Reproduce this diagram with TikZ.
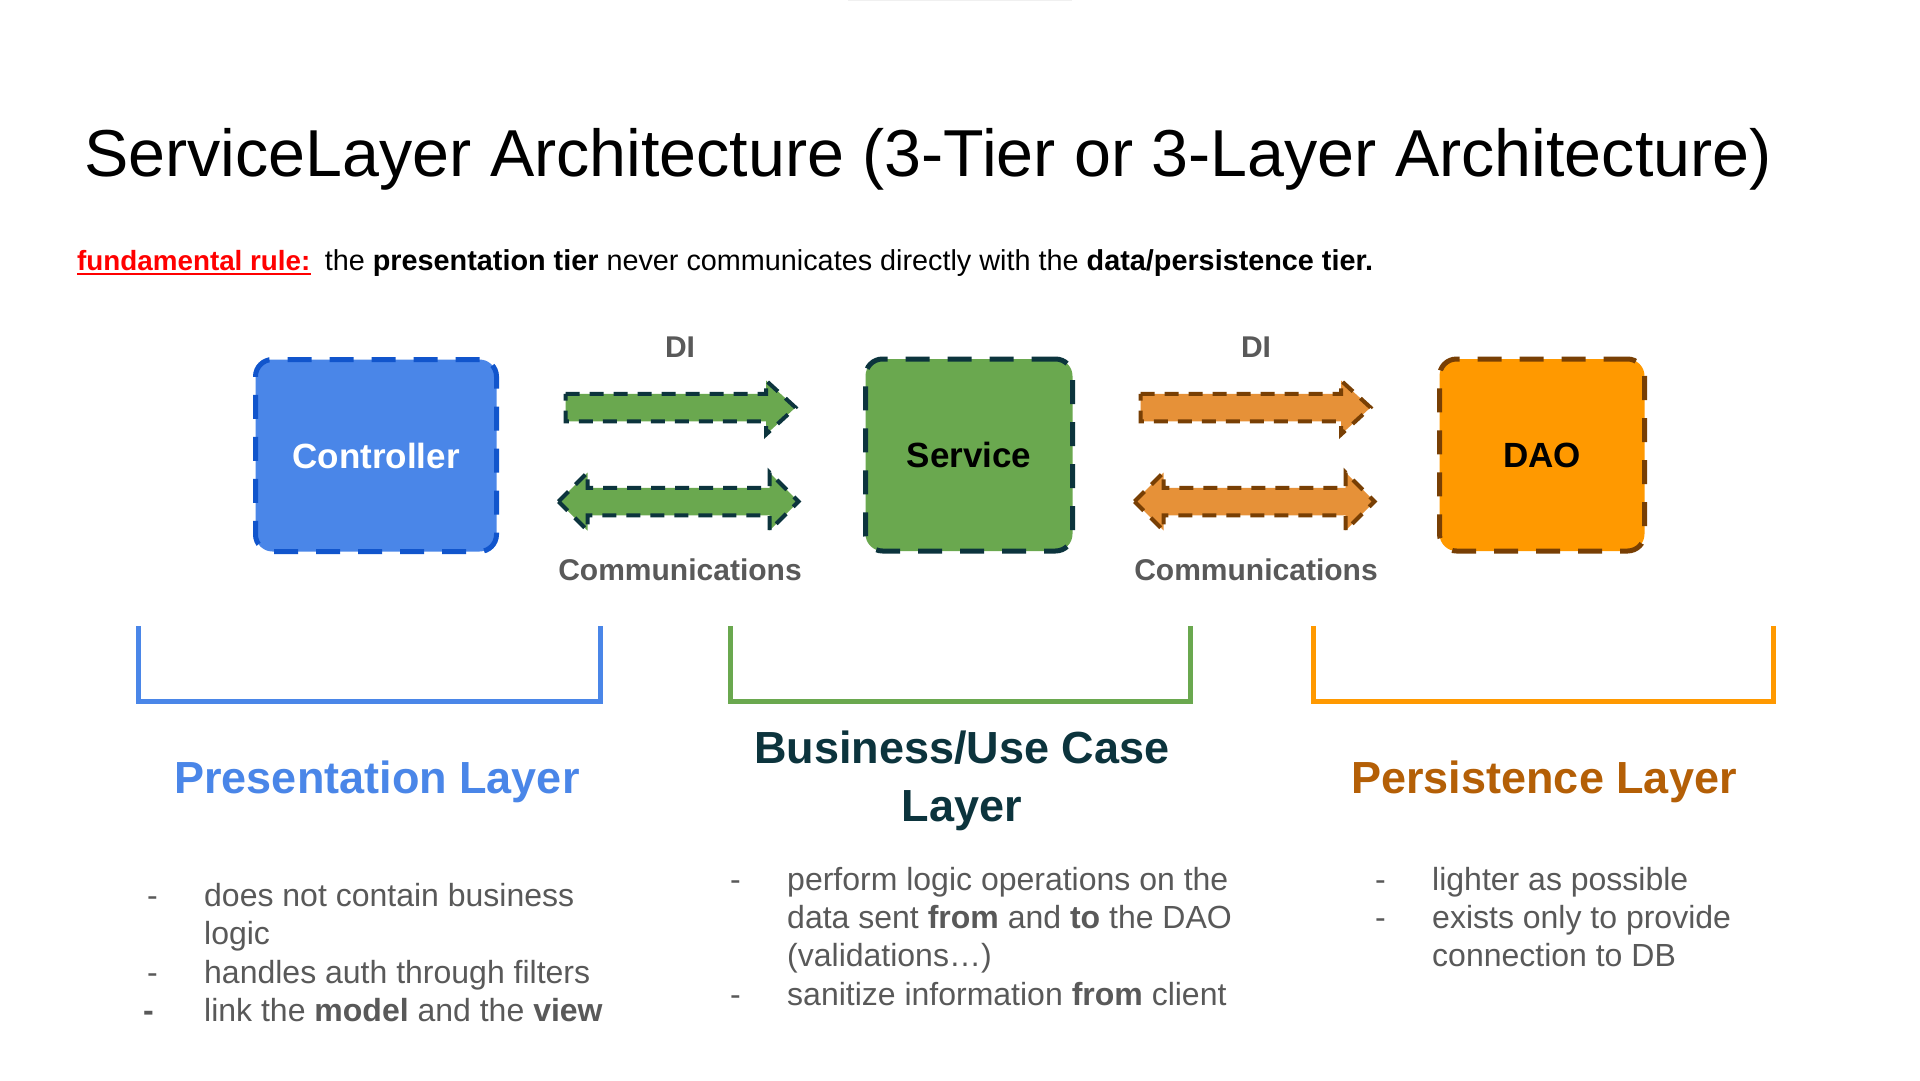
\documentclass[tikz,border=0pt]{standalone}
\usepackage{fontspec}
\setmainfont{Liberation Sans}
\usetikzlibrary{calc}
\definecolor{cblue}{HTML}{4A86E8}
\definecolor{cblueb}{HTML}{1155CC}
\definecolor{cgreen}{HTML}{6AA84F}
\definecolor{cdark}{HTML}{0C343D}
\definecolor{corange}{HTML}{FF9900}
\definecolor{carrow}{HTML}{E69138}
\definecolor{cbrown}{HTML}{783F04}
\definecolor{cpers}{HTML}{B45F06}
\definecolor{cgray}{HTML}{595959}
\begin{document}
\begin{tikzpicture}[x=1pt,y=-1pt,
  box/.style={rounded corners=17pt, line width=5pt, dash pattern=on 24pt off 18pt,
    inner sep=0pt, minimum height=192pt, font=\fontsize{35}{42}\selectfont\bfseries},
  arrline/.style={line width=4pt, dash pattern=on 14pt off 10pt, line join=miter},
  lbl/.style={inner sep=0pt, text=cgray, font=\fontsize{30}{36}\selectfont\bfseries},
  ltitle/.style={inner sep=0pt, anchor=base, font=\fontsize{45}{54}\selectfont\bfseries},
  bul/.style={inner sep=0pt, anchor=base west, text=cgray, font=\fontsize{32}{38}\selectfont},
  bracket/.style={line width=5pt},
  onearrow/.pic={\path[pic actions] (-115,-13.75) -- (85.5,-13.75) -- (85.5,-27) -- (115,0)
     -- (85.5,27) -- (85.5,13.75) -- (-115,13.75) -- cycle;},
  twoarrow/.pic={\path[pic actions] (-120,0) -- (-91,-29) -- (-91,-13.75) -- (91,-13.75)
     -- (91,-29) -- (120,0) -- (91,29) -- (91,13.75) -- (-91,13.75) -- (-91,29) -- cycle;}
]
\useasboundingbox (0,0) rectangle (1920,1080);
\fill[white] (0,0) rectangle (1920,1080);
\draw[black!6, line width=2pt] (848,0) -- (1072,0);

% title
\node[inner sep=0pt, anchor=base west, font=\fontsize{66.4}{80}\selectfont] (title) at (84,176)
  {ServiceLayer Architecture (3-Tier or 3-Layer Architecture)};

% rule
\node[inner sep=0pt, anchor=base west, text=red, font=\fontsize{27.8}{33}\selectfont\bfseries] (fr) at (77,270) {fundamental rule:};
\draw[red, line width=2.5pt] ([yshift=-4pt]fr.base west) -- ([yshift=-4pt]fr.base east);
\node[inner sep=0pt, anchor=base west, font=\fontsize{28.8}{34}\selectfont] (rule) at ([xshift=14pt]fr.base east)
  {the \textbf{presentation tier} never communicates directly with the \textbf{data/persistence tier.}};

% boxes
\node[box, draw=cblueb, fill=cblue, text=white, minimum width=241pt] (ctrl) at (376,455.5) {Controller};
\node[box, draw=cdark, fill=cgreen, text=black, minimum width=207pt] (serv) at (969,455) {Service};
\node[box, draw=cbrown, fill=corange, text=black, minimum width=205pt] (dao) at (1542,455) {DAO};

% arrows
\pic[draw=cdark, fill=cgreen, arrline] at (680.5,407.5) {onearrow};
\pic[draw=cdark, fill=cgreen, arrline] at (678.5,501.5) {twoarrow};
\pic[draw=cbrown, fill=carrow, arrline] at (1255.5,407.5) {onearrow};
\pic[draw=cbrown, fill=carrow, arrline] at (1254.5,501.5) {twoarrow};

\node[lbl] (di1) at (680,347) {DI};
\node[lbl] (com1) at (680,570) {Communications};
\node[lbl] (di2) at (1256,347) {DI};
\node[lbl] (com2) at (1256,570) {Communications};

% brackets
\draw[bracket, cblue] (138,626) -- (138,701) -- (600,701) -- (600,626);
\draw[bracket, cgreen] (730,626) -- (730,701) -- (1190,701) -- (1190,626);
\draw[bracket, corange] (1313,626) -- (1313,701) -- (1773,701) -- (1773,626);

% layer titles
\node[ltitle, text=cblue] (pl) at (377,793) {Presentation Layer};
\node[ltitle, text=cdark] (bl1) at (962,763) {Business/Use Case};
\node[ltitle, text=cdark] (bl2) at (962,821) {Layer};
\node[ltitle, text=cpers] (perl) at (1544,793) {Persistence Layer};

% presentation bullets
\node[bul] (pd1) at (147,906) {-};
\node[bul] (pt1) at (204,906) {does not contain business};
\node[bul] (pt2) at (204,944) {logic};
\node[bul] (pd2) at (147,983) {-};
\node[bul] (pt3) at (204,983) {handles auth through filters};
\node[bul, font=\fontsize{32}{38}\selectfont\bfseries] (pd3) at (143,1021) {-};
\node[bul] (pt4) at (204,1021) {link the \textbf{model} and the \textbf{view}};

% business bullets
\node[bul] (bd1) at (730,890) {-};
\node[bul] (bt1) at (787,890) {perform logic operations on the};
\node[bul] (bt2) at (787,928) {data sent \textbf{from} and \textbf{to} the DAO};
\node[bul] (bt3) at (787,966) {(validations…)};
\node[bul] (bd2) at (730,1005) {-};
\node[bul] (bt4) at (787,1005) {sanitize information \textbf{from} client};

% persistence bullets
\node[bul] (sd1) at (1375,890) {-};
\node[bul] (st1) at (1432,890) {lighter as possible};
\node[bul] (sd2) at (1375,928) {-};
\node[bul] (st2) at (1432,928) {exists only to provide};
\node[bul] (st3) at (1432,966) {connection to DB};
\end{tikzpicture}
\end{document}
